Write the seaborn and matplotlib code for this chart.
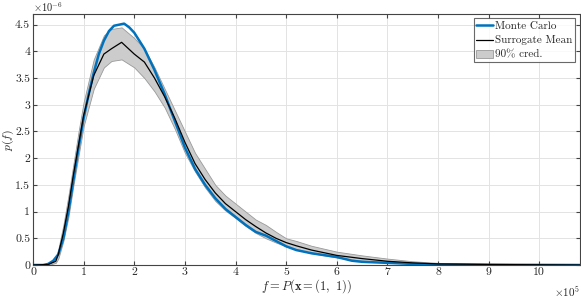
import numpy as np
import pandas as pd
import matplotlib
matplotlib.use("Agg")
import matplotlib.pyplot as plt
import seaborn as sns

# x in units of 1e5, densities in units of 1e-6
mc_x = [0, 0.2, 0.3, 0.4, 0.5, 0.6, 0.7, 0.8, 0.9, 1.0, 1.1, 1.2, 1.3, 1.4, 1.5, 1.6, 1.7, 1.8,
        1.9, 2.0, 2.2, 2.4, 2.6, 2.8, 3.0, 3.2, 3.4, 3.6, 3.8, 4.0, 4.2, 4.4, 4.6, 4.8, 5.0,
        5.2, 5.5, 6.0, 6.3, 6.5, 7.0, 7.5, 8.0, 9.0, 10.8]
mc_y = [0, 0.0, 0.02, 0.08, 0.2, 0.5, 1.0, 1.6, 2.2, 2.75, 3.2, 3.6, 3.95, 4.2, 4.38, 4.48, 4.5, 4.52,
        4.45, 4.35, 4.05, 3.65, 3.2, 2.7, 2.2, 1.8, 1.5, 1.25, 1.05, 0.9, 0.75, 0.62, 0.55, 0.45, 0.35,
        0.28, 0.22, 0.15, 0.08, 0.06, 0.04, 0.02, 0.01, 0.005, 0.0]

sg_x = [0, 0.3, 0.45, 0.5, 0.6, 0.7, 0.8, 0.9, 1.0, 1.2, 1.4, 1.55, 1.75, 2.0, 2.2, 2.4, 2.6, 2.8,
        3.0, 3.2, 3.4, 3.6, 3.8, 4.0, 4.2, 4.4, 4.6, 4.8, 5.0, 5.2, 5.5, 6.0, 6.5, 7.0, 7.5, 8.0,
        9.0, 10.8]
sg_mean = [0, 0.01, 0.07, 0.2, 0.6, 1.1, 1.7, 2.25, 2.8, 3.55, 3.95, 4.05, 4.17, 3.95, 3.8, 3.5,
           3.15, 2.75, 2.3, 1.9, 1.6, 1.35, 1.15, 1.0, 0.85, 0.72, 0.6, 0.5, 0.42, 0.36, 0.28, 0.18,
           0.12, 0.07, 0.04, 0.02, 0.01, 0.0]
sg_hi = [0, 0.02, 0.12, 0.3, 0.75, 1.3, 1.9, 2.5, 3.05, 3.85, 4.3, 4.42, 4.45, 4.25, 4.05, 3.7,
         3.3, 2.9, 2.5, 2.1, 1.8, 1.5, 1.3, 1.15, 1.0, 0.85, 0.75, 0.62, 0.5, 0.45, 0.36, 0.25,
         0.18, 0.12, 0.07, 0.04, 0.02, 0.005]
sg_lo = [0, 0.0, 0.04, 0.12, 0.45, 0.9, 1.5, 2.05, 2.6, 3.3, 3.7, 3.82, 3.85, 3.7, 3.5, 3.25,
         2.95, 2.55, 2.1, 1.75, 1.45, 1.2, 1.02, 0.88, 0.73, 0.6, 0.5, 0.42, 0.35, 0.29, 0.22, 0.14,
         0.08, 0.05, 0.02, 0.01, 0.0, 0.0]

x_ticks = list(range(0, 11))
y_ticks = [0, 0.5, 1, 1.5, 2, 2.5, 3, 3.5, 4, 4.5]

sns.set_style("ticks")
plt.rcParams["font.family"] = ["cmr10", "DejaVu Serif"]
plt.rcParams["mathtext.fontset"] = "cm"
plt.rcParams["axes.unicode_minus"] = False

fig = plt.figure(figsize=(5.81, 2.98), dpi=100)
ax = fig.add_axes([0.0568, 0.1107, 0.9412, 0.8423])

ax.fill_between(sg_x, sg_lo, sg_hi, facecolor="#cccccc", edgecolor="#999999",
                linewidth=0.6, label="90% cred.", zorder=2)
mc = pd.DataFrame({"x": mc_x, "y": mc_y})
sg = pd.DataFrame({"x": sg_x, "y": sg_mean})
sns.lineplot(data=mc, x="x", y="y", ax=ax, color="#0072BD", linewidth=1.8,
             label="Monte Carlo", zorder=3)
sns.lineplot(data=sg, x="x", y="y", ax=ax, color="black", linewidth=0.9,
             label="Surrogate Mean", zorder=4)

ax.set_xlim(0, 10.8)
ax.set_ylim(0, 4.7)
ax.set_xticks(x_ticks)
ax.set_xticklabels([str(t) for t in x_ticks])
ax.set_yticks(y_ticks)
ax.set_yticklabels([("%g" % t) for t in y_ticks])
ax.grid(True, color="#e3e3e3", linewidth=0.7)
ax.set_axisbelow(True)
ax.tick_params(direction="in", top=True, right=True, length=3, labelsize=8.5,
               color="#444444", pad=2)
for s in ax.spines.values():
    s.set_color("#444444")
    s.set_linewidth(0.8)

ax.set_xlabel(r"$f = P(\mathbf{x} = (1,\ 1))$", fontsize=9, labelpad=0)
ax.set_ylabel(r"$p(f)$", fontsize=8.5)
ax.yaxis.set_label_coords(-0.032, 0.5)
ax.text(0.0, 1.0, r"$\times10^{-6}$", transform=ax.transAxes, fontsize=7.5,
        ha="left", va="bottom")
ax.text(1.0, -0.075, r"$\times10^{5}$", transform=ax.transAxes, fontsize=8,
        ha="right", va="top")

h, l = ax.get_legend_handles_labels()
order = [l.index("Monte Carlo"), l.index("Surrogate Mean"), l.index("90% cred.")]
leg = ax.legend([h[i] for i in order], [l[i] for i in order], loc="upper right",
                fontsize=8, frameon=True, fancybox=False, borderpad=0.25,
                labelspacing=0.4, handlelength=1.5, handletextpad=0.2,
                borderaxespad=0.4)
leg.get_frame().set_edgecolor("#444444")
leg.get_frame().set_linewidth(0.8)

fig.savefig("out.png", dpi=100)
